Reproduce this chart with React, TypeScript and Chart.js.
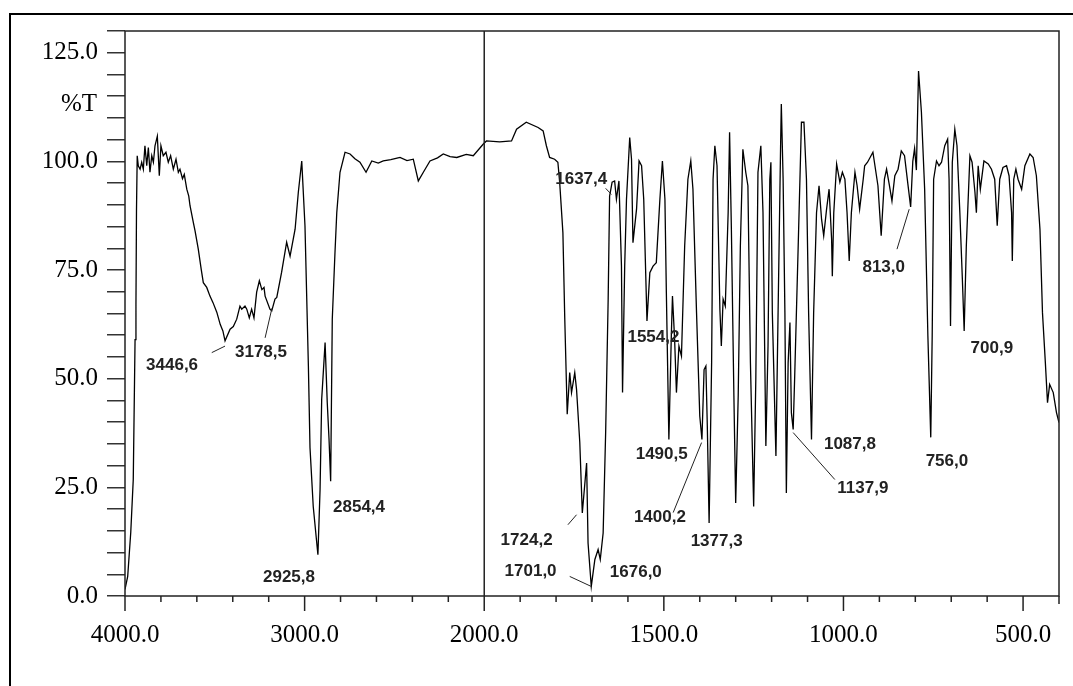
import React, { useEffect, useRef } from "react";
import { Chart, registerables } from "chart.js";

Chart.register(...registerables);

// ---- data (wavenumber in cm-1, %T) ----
const wavenumbers = [
  4000, 3985, 3968, 3954, 3944, 3939, 3936, 3932, 3926, 3916, 3907, 3898, 3889, 3879, 3870, 3861, 3851, 3842,
  3833, 3820, 3809, 3800, 3787, 3772, 3759, 3746, 3731, 3716, 3703, 3694, 3680, 3670, 3656, 3645, 3638, 3620,
  3610, 3592, 3575, 3564, 3545, 3527, 3510, 3489, 3470, 3455,
  3443, 3415, 3397, 3378, 3360, 3350, 3332, 3322, 3308, 3295, 3282, 3267, 3252, 3238, 3226, 3220, 3193, 3183,
  3165, 3155, 3128, 3100, 3081, 3053, 3035, 3016, 2998, 2979, 2970,
  2952, 2926, 2914, 2905, 2886, 2874, 2864, 2855, 2846, 2831, 2821, 2803, 2775, 2747, 2720, 2692, 2658, 2626,
  2590, 2562, 2520, 2469, 2430, 2395, 2367, 2339, 2302, 2260, 2228, 2190, 2153, 2100, 2061, 2005,
  1994, 1957, 1924, 1910, 1883, 1850, 1836, 1827, 1818, 1804, 1795, 1790, 1781, 1776, 1769, 1762, 1757, 1748,
  1743, 1734, 1727, 1715, 1711, 1702, 1692, 1683, 1677, 1669, 1662, 1655, 1651, 1644, 1637, 1632, 1625, 1618,
  1615, 1609, 1604, 1595, 1590, 1586, 1576, 1569, 1562, 1556, 1547, 1539, 1530, 1521, 1511, 1504, 1497, 1493,
  1486, 1479, 1476, 1470, 1465, 1458, 1451, 1442, 1433, 1425, 1419, 1409, 1400, 1394, 1388, 1383, 1379, 1374,
  1367, 1363, 1358, 1352, 1344, 1340, 1335, 1329, 1321, 1317, 1312, 1305, 1300, 1293, 1287, 1280, 1272, 1266,
  1259, 1250, 1244, 1238, 1230, 1224, 1216, 1210, 1205, 1202, 1198, 1188, 1182, 1175, 1173, 1168, 1163, 1159,
  1154, 1149, 1145, 1140, 1136, 1126, 1117, 1110, 1103, 1097, 1089, 1083, 1075, 1068, 1061, 1055, 1047, 1040,
  1033, 1031, 1027, 1019, 1010, 1003, 996, 990, 984, 978, 968, 962, 955, 945, 941, 933, 918, 904, 895, 886,
  880, 872, 865, 857, 848, 839, 830, 821, 813, 807, 802, 797, 791, 783, 774, 765, 757, 753, 749, 741, 734, 727,
  718, 710, 706, 702, 697, 690, 684, 676, 669, 664, 658, 648, 642, 634, 630, 625, 619, 609, 597, 588, 579, 572,
  565, 556, 546, 539, 532, 530, 526, 520, 514, 504, 495, 481, 472, 463, 453, 446, 438, 432, 426, 416, 407, 400,
];

const transmittance = [
  1.5, 4.5, 14.6, 26.8, 59, 67, 89, 101.3, 99, 98.2, 99.8, 98.2, 103.6, 99, 103.2, 97.5, 101.3, 99.8,
  103.6, 105.8, 96.7, 103.6, 101.3, 102.1, 99.8, 101.3, 98.2, 100.5, 97.5, 98.2, 96, 97, 93.6, 92, 89.8, 86,
  84, 79.8, 75, 72.1, 71, 69, 67.5, 65.3, 62.5, 61,
  58.7, 61.4, 62, 63.7, 66.7, 66, 66.7, 66, 64, 66, 64, 69.9, 72.5, 70.5, 71, 69, 66, 65.6,
  68.3, 68.7, 74.5, 81.4, 78.2, 84.4, 92.9, 100.1, 85.2, 52.9, 34.1,
  20.6, 9.5, 24.5, 45.2, 58.3, 44.5, 36, 26.4, 63.7, 79, 88.2, 97.5, 102.1, 101.7, 100.6, 99.8, 97.5, 100.1,
  99.6, 100.1, 100.4, 100.9, 100.2, 100.5, 95.5, 97.5, 100.1, 100.8, 101.7, 101.1, 100.9, 101.6, 101.3, 104,
  104.7, 104.5, 104.7, 107.4, 109, 107.8, 107, 103.6, 100.9, 100.5, 99.8, 95.2, 83.6, 64.4, 41.8, 51.4, 46.8, 51.4,
  47.5, 35.3, 19.1, 30.6, 12.2, 2.2, 8.4, 10.7, 8.4, 14.5, 37.6, 68.3, 92, 95.2, 95.5, 91.3, 95.5, 75.9,
  46.8, 75.9, 91.3, 105.5, 100.5, 81.3, 89, 100.1, 99, 91.3, 63.3, 74.4, 75.9, 76.7, 91.3, 100.1, 91.3, 69.8,
  36, 60.6, 69, 59, 46.8, 57.5, 55.2, 80.6, 95.9, 100.1, 93.6, 65.2, 41.4, 36, 52.1, 52.9, 39.1, 16.8,
  53.7, 95.9, 103.6, 99, 66, 57.5, 68.3, 66.7, 88.2, 106.7, 84.4, 46, 21.4, 46, 80.6, 102.8, 97.5, 94.4,
  53.7, 20.6, 49.8, 97.5, 103.6, 88.2, 34.5, 57.5, 95.9, 99.8, 65.2, 32.2, 65.2, 103.6, 113.2, 95.9, 65.2, 23.7,
  53.7, 62.9, 42.2, 38.3, 49.8, 80.6, 109, 109, 95.9, 65.2, 36, 65.2, 88.2, 94.4, 86.7, 82.9, 89, 93.6,
  82.1, 73.6, 88.2, 99.4, 95.2, 97.5, 95.9, 88.2, 77.1, 88.2, 97.5, 94.4, 89, 95.9, 99, 99.8, 102.1, 94.4, 82.9, 95.9,
  98.2, 94.4, 90.9, 96.7, 98.2, 102.4, 101.3, 95, 89.5, 100, 103, 98, 120.8, 111.3, 93.6, 59.8, 36.5, 59.8, 95.9, 100.1, 99, 99.8,
  103.6, 105.1, 95.9, 62.1, 99.8, 107.4, 103.6, 88.2, 72.9, 61, 80.6, 101.3, 99.8, 92.9, 88.2, 99, 93.6, 100.1, 99.4, 98.2, 95.9, 85.2,
  95.9, 98.6, 99, 96.7, 88.2, 77.1, 95.9, 98.2, 95.9, 93.6, 99, 101.7, 100.9, 96.7, 84.4, 65.2, 53.7, 44.5, 48.7, 46.8, 42.2, 39.9,
];

const xTickLabels = [4000, 3000, 2000, 1500, 1000, 500];
const yTickLabels = [0, 25, 50, 75, 100, 125];
const yAxisTitle = "%T";

const peakLabels = [
  "3446,6", "3178,5", "2925,8", "2854,4", "1724,2", "1701,0", "1676,0", "1637,4", "1554,2",
  "1490,5", "1400,2", "1377,3", "1137,9", "1087,8", "813,0", "756,0", "700,9",
];

// ---- layout of annotations (data coordinates: wavenumber, %T) ----
const labelAnchors: [number, number][] = [
  [3738, 53.1], [3243, 56.1], [3087, 4.4], [2697, 20.3], [1882, 12.9], [1871, 5.6], [1578, 5.4],
  [1730, 95.9], [1529, 59.5], [1506, 32.6], [1511, 18.0], [1353, 12.5], [946, 24.7], [982, 34.9],
  [888, 75.6], [712, 31.0], [587, 57.0],
];
const leaderLines: ([number, number, number, number] | null)[] = [
  [3517, 56.0, 3443, 57.5], [3220, 59.4, 3182, 66.2], null, null, [1767, 16.4, 1743, 18.7],
  [1762, 4.5, 1702, 2.2], null, [1662, 93.8, 1646, 92.4], null, null, [1474, 19.2, 1395, 35.3],
  null, [1140, 37.6, 1024, 26.8], null, [851, 79.8, 817, 89], null, null,
];

// piecewise wavenumber axis: 4000-2000 at half the scale of 2000-400
function toAxis(w: number) {
  return w >= 2000 ? 4000 - w : 2000 + (2000 - w) * 2;
}
function fromAxis(u: number) {
  return u <= 2000 ? 4000 - u : 2000 - (u - 2000) / 2;
}

const W = 1073;
const H = 686;

const decorPlugin = {
  id: "decor",
  afterDraw(chart: any) {
    const { ctx, chartArea: a, scales } = chart;
    const x = scales.x;
    const y = scales.y;
    ctx.save();
    // outer frame
    ctx.strokeStyle = "#000";
    ctx.lineWidth = 2;
    ctx.beginPath();
    ctx.moveTo(10, H);
    ctx.lineTo(10, 14);
    ctx.lineTo(W, 14);
    ctx.stroke();
    // plot frame
    ctx.strokeStyle = "#222";
    ctx.lineWidth = 1.5;
    ctx.strokeRect(a.left, a.top, a.right - a.left, a.bottom - a.top);
    // divider at 2000
    const p2000 = x.getPixelForValue(toAxis(2000));
    ctx.beginPath();
    ctx.moveTo(p2000, a.top);
    ctx.lineTo(p2000, a.bottom);
    ctx.stroke();
    // x ticks
    for (let u = 0; u <= 5200; u += 200) {
      const px = x.getPixelForValue(u);
      const len = u % 1000 === 0 ? 15 : u === 5200 ? 8 : 6;
      ctx.beginPath();
      ctx.moveTo(px, a.bottom);
      ctx.lineTo(px, a.bottom + len);
      ctx.stroke();
    }
    // %T
    ctx.fillStyle = "#000";
    ctx.font = "25px 'Liberation Serif'";
    ctx.textAlign = "right";
    ctx.textBaseline = "middle";
    ctx.fillText(yAxisTitle, 97, y.getPixelForValue(113));
    // peak labels
    ctx.font = "bold 17px 'Liberation Sans'";
    ctx.fillStyle = "#222";
    ctx.textAlign = "center";
    ctx.textBaseline = "middle";
    peakLabels.forEach((t, i) => {
      const [w, v] = labelAnchors[i];
      ctx.fillText(t, x.getPixelForValue(toAxis(w)), y.getPixelForValue(v));
    });
    ctx.strokeStyle = "#222";
    ctx.lineWidth = 1;
    leaderLines.forEach((l) => {
      if (!l) return;
      ctx.beginPath();
      ctx.moveTo(x.getPixelForValue(toAxis(l[0])), y.getPixelForValue(l[1]));
      ctx.lineTo(x.getPixelForValue(toAxis(l[2])), y.getPixelForValue(l[3]));
      ctx.stroke();
    });
    ctx.restore();
  },
};

export default function App() {
  const ref = useRef<HTMLCanvasElement | null>(null);
  useEffect(() => {
    if (!ref.current) return;
    const points = wavenumbers.map((w, i) => ({ x: toAxis(w), y: transmittance[i] }));
    const chart = new Chart(ref.current, {
      type: "line",
      data: {
        datasets: [
          {
            data: points,
            borderColor: "#000",
            borderWidth: 1.3,
            pointRadius: 0,
            tension: 0,
            fill: false,
          },
        ],
      },
      options: {
        animation: false,
        responsive: false,
        devicePixelRatio: 1,
        parsing: false,
        normalized: true,
        layout: { padding: { top: 31, right: 14, left: 0, bottom: 0 } },
        plugins: { legend: { display: false }, tooltip: { enabled: false } },
        scales: {
          x: {
            type: "linear",
            min: 0,
            max: 5200,
            border: { display: false },
            grid: { display: false, drawTicks: false },
            ticks: {
              stepSize: 200,
              autoSkip: false,
              maxRotation: 0,
              padding: 24,
              color: "#000",
              font: { family: "'Liberation Serif'", size: 25 },
              callback: (v: any) => {
                const w = fromAxis(Number(v));
                return xTickLabels.includes(w) && Number(v) % 1000 === 0 ? w.toFixed(1) : "";
              },
            },
            afterFit: (s: any) => {
              s.height = 90;
              s.paddingLeft = 0;
              s.paddingRight = 0;
            },
          },
          y: {
            min: 0,
            max: 130,
            border: { display: false },
            grid: {
              drawOnChartArea: false,
              drawTicks: true,
              tickLength: 18,
              color: "#333",
              lineWidth: 1.5,
            },
            ticks: {
              stepSize: 5,
              autoSkip: false,
              padding: 9,
              color: "#000",
              font: { family: "'Liberation Serif'", size: 25 },
              callback: (v: any) => (yTickLabels.includes(Number(v)) ? Number(v).toFixed(1) : ""),
            },
            afterFit: (s: any) => {
              s.width = 125;
              s.paddingTop = 0;
              s.paddingBottom = 0;
            },
          },
        },
      },
      plugins: [decorPlugin],
    });
    return () => chart.destroy();
  }, []);
  return (
    <div style={{ position: "fixed", left: 0, top: 0, width: W, height: H, background: "#fff" }}>
      <canvas ref={ref} width={W} height={H} style={{ display: "block" }} />
    </div>
  );
}
